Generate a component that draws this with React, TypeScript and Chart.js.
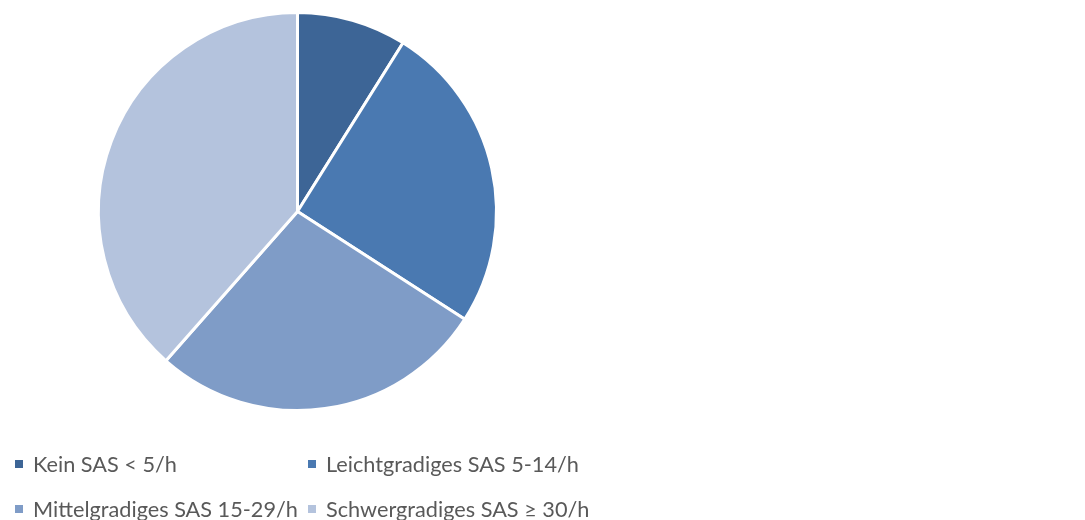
import React, { useEffect, useRef } from "react";
import { Chart, registerables } from "chart.js";

Chart.register(...registerables);

const categories = [
  "Kein SAS < 5/h",
  "Leichtgradiges SAS 5-14/h",
  "Mittelgradiges SAS 15-29/h",
  "Schwergradiges SAS ≥ 30/h",
];
const shares = [8.9, 25.2, 27.4, 38.5];
const sliceColors = ["#3D6596", "#4A79B1", "#7F9CC7", "#B4C3DD"];

const gridLegend = {
  id: "gridLegend",
  afterDraw(chart: any, _args: any, opts: any) {
    const ctx = chart.ctx;
    const labels: string[] = chart.data.labels;
    const colors: string[] = chart.data.datasets[0].backgroundColor;
    ctx.save();
    ctx.font = opts.font;
    ctx.textBaseline = "alphabetic";
    labels.forEach((lab, i) => {
      const col = i % 2;
      const row = Math.floor(i / 2);
      const x = opts.colX[col];
      const y = opts.rowY[row];
      ctx.fillStyle = colors[i];
      ctx.fillRect(x, y - opts.box / 2, opts.box, opts.box);
      ctx.fillStyle = opts.color;
      ctx.fillText(lab, x + opts.textGap, y + opts.baselineShift);
    });
    ctx.restore();
  },
};

export default function App() {
  const ref = useRef<HTMLCanvasElement>(null);
  useEffect(() => {
    if (!ref.current) return;
    const chart = new Chart(ref.current, {
      type: "pie",
      data: {
        labels: categories,
        datasets: [
          {
            data: shares,
            backgroundColor: sliceColors,
            borderColor: "#ffffff",
            borderWidth: 3,
          },
        ],
      },
      options: {
        responsive: false,
        animation: false,
        layout: { padding: { left: 97, right: 587, top: 11, bottom: 108 } },
        plugins: {
          legend: { display: false },
          tooltip: { enabled: false },
          gridLegend: {
            font: "21.7px Lato",
            color: "#595959",
            box: 8,
            colX: [15, 308],
            rowY: [464, 509],
            textGap: 18,
            baselineShift: 8,
          },
        } as any,
      },
      plugins: [gridLegend],
    });
    return () => chart.destroy();
  }, []);
  return (
    <div style={{ position: "absolute", left: 0, top: 0, width: 1085, height: 520, background: "#fff" }}>
      <canvas ref={ref} width={1085} height={520} />
    </div>
  );
}
